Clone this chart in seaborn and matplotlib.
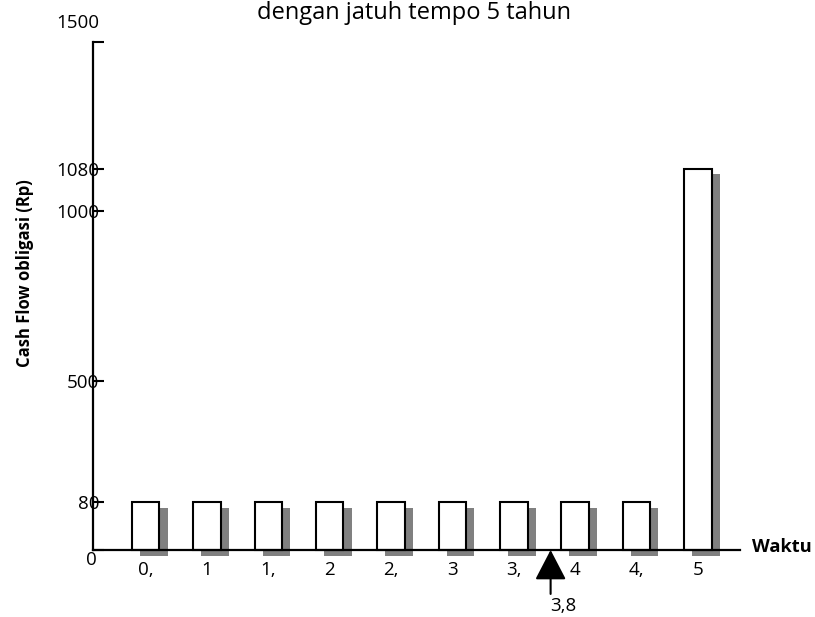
import numpy as np
import pandas as pd
import matplotlib
matplotlib.use("Agg")
import matplotlib.pyplot as plt
import matplotlib.patheffects as pe
from matplotlib.transforms import ScaledTranslation
import seaborn as sns

# ---- data ----
waktu = [0.5, 1.0, 1.5, 2.0, 2.5, 3.0, 3.5, 4.0, 4.5, 5.0]
cash_flow = [80, 80, 80, 80, 80, 80, 80, 80, 80, 1080]
x_tick_labels = ["0,", "1", "1,", "2", "2,", "3", "3,", "4", "4,", "5"]
y_ticks = [0, 80, 500, 1000, 1080, 1500]
y_tick_labels = ["0", "80", "500", "1000", "1080", "1500"]
duration = 3.8
duration_label = "3,8"
title = "dengan jatuh tempo 5 tahun"
xlabel = "Waktu"
ylabel = "Cash Flow obligasi (Rp)"

# hand-drawn (non-linear) value axis of the original diagram
scale_vals = [0, 80, 500, 1000, 1080, 1500]
scale_pos = [0, 48, 169.3, 339.3, 381.5, 508]

sns.set_theme(style="white")
plt.rcParams["font.family"] = ["Open Sans", "DejaVu Sans"]

W, H, DPI = 815, 617, 100
fig = plt.figure(figsize=(W / DPI, H / DPI), dpi=DPI)
ax = fig.add_axes([92.5 / W, (H - 550) / H, (740 - 92.5) / W, (550 - 42) / H])

df = pd.DataFrame({"waktu": waktu, "cf": cash_flow})
sns.barplot(data=df, x="waktu", y="cf", native_scale=True, width=0.448,
            color="white", edgecolor="black", linewidth=1.5, saturation=1, ax=ax)

for p in ax.patches:
    p.set_clip_on(False)
    p.set_path_effects([pe.SimplePatchShadow(offset=(5.8, -4.3), shadow_rgbFace="#808080", alpha=1.0),
                        pe.Normal()])

fwd = lambda v: np.interp(v, scale_vals, scale_pos)
inv = lambda p: np.interp(p, scale_pos, scale_vals)
ax.set_yscale("function", functions=(fwd, inv))
ax.set_ylim(0, 1500)
ax.set_xlim(0.0664, 5.3435)

ax.set_xticks(waktu)
ax.set_xticklabels(x_tick_labels)
ax.set_yticks(y_ticks)
ax.set_yticklabels(y_tick_labels)
ax.minorticks_off()

for s in ["top", "right"]:
    ax.spines[s].set_visible(False)
for s in ["left", "bottom"]:
    ax.spines[s].set_color("black")
    ax.spines[s].set_linewidth(1.6)

ax.tick_params(axis="x", bottom=False, length=0, pad=8, labelsize=13.5, colors="black")
ax.tick_params(axis="y", left=True, direction="in", length=8, width=1.5, pad=-4.7,
               labelsize=13.5, colors="black")

for lab in ax.get_yticklabels():
    t = lab.get_text()
    if t == "1500":
        lab.set_transform(lab.get_transform() + ScaledTranslation(0, 21 / DPI, fig.dpi_scale_trans))
    elif t == "0":
        lab.set_transform(lab.get_transform() + ScaledTranslation(-2 / DPI, -8 / DPI, fig.dpi_scale_trans))

ax.set_xlabel(xlabel, fontweight="bold", fontsize=13.2, ha="left", va="center", color="black")
ax.xaxis.set_label_coords((752 - 92.5) / (740 - 92.5), 0.005)
ax.set_ylabel(ylabel, fontweight="bold", fontsize=12, va="center", color="black")
ax.yaxis.set_label_coords((25 - 92.5) / (740 - 92.5), (550 - 273) / 508)

fig.text(414 / W, (H - 19) / H, title, ha="center", va="baseline", fontsize=17, color="black")

ax.annotate(duration_label, xy=(duration, 0), xycoords="data",
            xytext=(0, -34), textcoords="offset points",
            ha="left", va="top", fontsize=13.5, color="black",
            arrowprops=dict(arrowstyle="-|>,head_length=1.25,head_width=0.65",
                            mutation_scale=15, lw=1.5, color="black",
                            shrinkA=0, shrinkB=0, relpos=(0, 1)))

fig.savefig("out.png", dpi=DPI, facecolor="white")
